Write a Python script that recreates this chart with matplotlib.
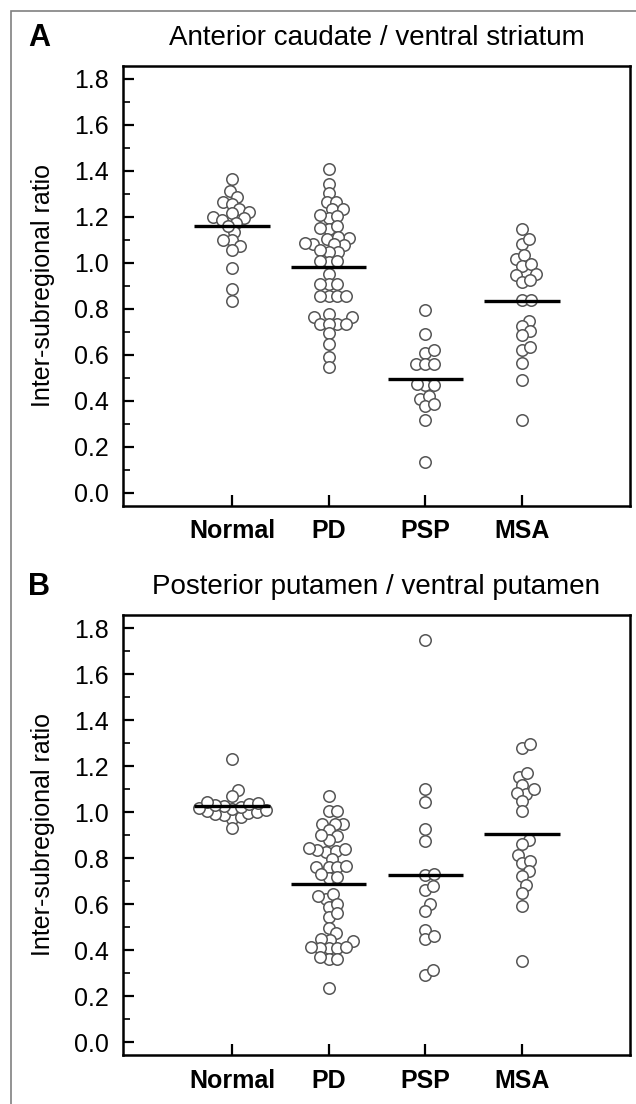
import numpy as np
import matplotlib
matplotlib.use('Agg')
import matplotlib.pyplot as plt
from matplotlib.patches import Rectangle

plt.rcParams['font.family'] = ['Liberation Sans', 'DejaVu Sans']

# Grupos
groups = ['Normal', 'PD', 'PSP', 'MSA']

# Panel A: anterior caudate / ventral striatum
a_normal = [1.363, 1.312, 1.287, 1.265, 1.255, 1.236, 1.222, 1.215, 1.20, 1.193,
            1.188, 1.174, 1.135, 1.098, 1.098, 1.074, 1.055, 0.979, 0.886, 0.834, 1.16]
a_pd = [1.408, 1.341, 1.302, 1.265, 1.265, 1.232, 1.232, 1.196, 1.202, 1.208,
        1.149, 1.152, 1.16, 1.105, 1.108, 1.114, 1.077, 1.08, 1.08, 1.085,
        1.048, 1.048, 1.055, 1.005, 1.01, 1.01, 0.953, 0.91, 0.91, 0.91,
        0.854, 0.855, 0.855, 0.855, 0.779, 0.764, 0.764, 0.735, 0.735, 0.735,
        0.735, 0.695, 0.648, 0.59, 0.546]
a_psp = [0.793, 0.692, 0.61, 0.62, 0.561, 0.561, 0.561, 0.467, 0.467, 0.474,
         0.41, 0.42, 0.378, 0.385, 0.317, 0.133]
a_msa = [1.149, 1.084, 1.103, 1.016, 1.036, 0.987, 0.993, 0.946, 0.953, 0.917,
         0.924, 0.837, 0.837, 0.747, 0.725, 0.703, 0.685, 0.619, 0.634, 0.564,
         0.491, 0.318]
a_means = [1.16, 0.982, 0.495, 0.834]

# Panel B: posterior putamen / ventral putamen
b_normal = [1.23, 1.098, 1.069, 0.972, 0.98, 0.986, 0.992, 0.998, 1.0, 1.004,
            1.008, 1.013, 1.018, 1.022, 1.026, 1.031, 1.036, 1.041, 1.046, 0.933]
b_pd = [1.069, 1.005, 1.005, 0.947, 0.95, 0.95, 0.921, 0.895, 0.878, 0.90,
        0.827, 0.83, 0.834, 0.84, 0.844, 0.798, 0.762, 0.762, 0.762, 0.765,
        0.713, 0.72, 0.73, 0.622, 0.636, 0.646, 0.586, 0.603, 0.545, 0.56,
        0.497, 0.473, 0.44, 0.446, 0.451, 0.408, 0.41, 0.412, 0.415, 0.415,
        0.36, 0.364, 0.371, 0.238]
b_psp = [1.747, 1.10, 1.044, 0.926, 0.874, 0.729, 0.733, 0.664, 0.679, 0.603,
         0.57, 0.49, 0.448, 0.461, 0.292, 0.313]
b_msa = [1.279, 1.295, 1.153, 1.17, 1.117, 1.081, 1.085, 1.10, 1.047, 1.004,
         0.881, 0.861, 0.813, 0.779, 0.788, 0.745, 0.722, 0.682, 0.649, 0.593,
         0.354]
b_means = [1.025, 0.69, 0.729, 0.907]

panels = [
    ('A', 'Anterior caudate / ventral striatum', [a_normal, a_pd, a_psp, a_msa], a_means),
    ('B', 'Posterior putamen / ventral putamen', [b_normal, b_pd, b_psp, b_msa], b_means),
]

W, H = 636, 1104
fig = plt.figure(figsize=(W / 100, H / 100), dpi=100)

# marco gris exterior
fig.patches.append(Rectangle((11 / W, -0.1), 1.2, 1.1 - 11 / H, transform=fig.transFigure,
                             fill=False, ec='#808080', lw=1.2))


def swarm_x(ax, xc, vals, d_px):
    # posiciones tipo beeswarm en pixeles, luego de vuelta a datos
    pts = ax.transData.transform(np.column_stack([np.full(len(vals), xc), vals]))
    ys = pts[:, 1]
    order = np.argsort(ys)
    placed = []
    offs = np.zeros(len(vals))
    for i in order:
        y = ys[i]
        cands = [0.0]
        for px, py in placed:
            dy = abs(py - y)
            if dy < d_px:
                dx = np.sqrt(d_px ** 2 - dy ** 2)
                cands += [px + dx, px - dx]
        cands.sort(key=abs)
        chosen = cands[-1]
        for c in cands:
            if all((c - px) ** 2 + (y - py) ** 2 >= d_px ** 2 - 1e-6 for px, py in placed):
                chosen = c
                break
        offs[i] = chosen
        placed.append((chosen, y))
    back = ax.transData.inverted().transform(np.column_stack([pts[:, 0] + offs, ys]))
    return back[:, 0]


axes_boxes = [(505.5, 65.7), (1055.0, 615.0)]  # (bottom px, top px)
for (letter, title, data, means), (bot, top) in zip(panels, axes_boxes):
    ax = fig.add_axes([123 / W, 1 - bot / H, 507 / W, (bot - top) / H])
    ax.set_xlim(-1.13, 4.12)
    ax.set_ylim(-0.055, 1.857)
    x = np.arange(len(groups))

    for xi, vals, m in zip(x, data, means):
        xs = swarm_x(ax, xi, np.array(vals), 8.8)
        ax.scatter(xs, vals, s=68, facecolor='white', edgecolor='#555555', linewidth=1.1, zorder=2)
        ax.hlines(m, xi - 0.39, xi + 0.39, color='black', lw=2.4, zorder=3)

    ax.set_yticks(np.arange(0, 1.81, 0.2))
    ax.set_yticks(np.arange(0.1, 1.81, 0.2), minor=True)
    ax.set_yticklabels([f'{v:.1f}' for v in np.arange(0, 1.81, 0.2)])
    ax.set_xticks(x)
    ax.set_xticklabels(groups, fontweight='bold')
    ax.tick_params(axis='y', which='major', direction='in', length=8, width=1.6, labelsize=18, pad=10)
    ax.tick_params(axis='y', which='minor', direction='in', length=5, width=1.2)
    ax.tick_params(axis='x', direction='in', length=8, width=1.6, labelsize=18, pad=10)
    for sp in ax.spines.values():
        sp.set_linewidth(1.8)
    ax.set_ylabel('Inter-subregional ratio', fontsize=18, labelpad=14)

    ty = 1 - (top - 28) / H
    fig.text((123 + 630) / 2 / W, ty, title, ha='center', va='center', fontsize=20)
    fig.text(39 / W, ty, letter, ha='center', va='center', fontsize=22, fontweight='bold')

fig.savefig('out.png', dpi=100)
